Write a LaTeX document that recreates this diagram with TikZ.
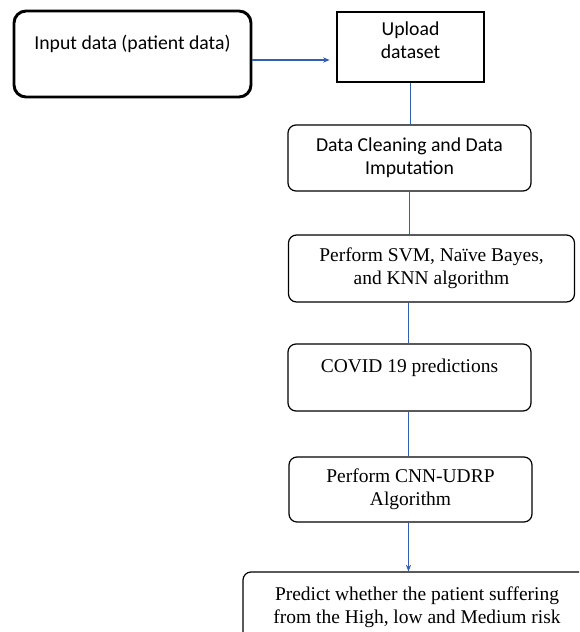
\documentclass[tikz,border=0pt]{standalone}
\usepackage{fontspec}
\setmainfont{Liberation Serif}
\newfontfamily\calibrifont{Carlito}
\usetikzlibrary{arrows.meta}
\definecolor{flowblue}{RGB}{52,94,180}
\tikzset{
  stepbox/.style={draw, rounded corners=6pt, line width=0.9pt, align=center,
    inner sep=0pt, font=\fontsize{14.6}{17.5}\selectfont},
  calibribox/.style={font=\calibrifont\fontsize{14.8}{17.5}\selectfont},
  flow/.style={draw=flowblue, line width=1pt}
}
\begin{document}
\begin{tikzpicture}[x=0.75pt,y=-0.75pt] % covid risk prediction flow
\path[use as bounding box, clip] (0,0) rectangle (579,632);
    \node[stepbox, calibribox, line width=2.2pt, rounded corners=9pt, minimum width=177.75pt, minimum height=64.5pt,
          text depth=17pt] (input) at (132.5,54) {Input data (patient data)};
    \node[stepbox, calibribox, rounded corners=0pt, minimum width=110.25pt, minimum height=52.5pt,
          text depth=10pt] (upload) at (410.5,47) {Upload\\dataset};
    \node[stepbox, calibribox, minimum width=182.25pt, minimum height=49.5pt] (clean) at (409.5,158) {Data Cleaning and Data\\Imputation};
    \node[stepbox, minimum width=214.5pt, minimum height=50.25pt] (svm) at (431.5,268.5) {Perform SVM, Naïve Bayes,\\and KNN algorithm};
    \node[stepbox, minimum width=182.25pt, minimum height=50.25pt, text depth=17.5pt] (covid) at (409.5,377.5) {COVID 19 predictions};
    \node[stepbox, minimum width=182.25pt, minimum height=48.75pt] (cnn) at (410.5,489.5) {Perform CNN-UDRP\\Algorithm};
    \node[stepbox, minimum width=261pt, minimum height=52.5pt] (predict) at (417,607) {Predict whether the patient suffering\\from the High, low and Medium risk};
    \draw[flow, -{Stealth[length=5pt,width=4pt]}, shorten >=5pt] ([yshift=-4.5pt]input.east) -- ([yshift=-4.5pt]input.east -| upload.west);
    \draw[flow] (upload.south) -- (upload.south |- clean.north);
    \draw[flow] ([xshift=-0.75pt]upload.south |- clean.south) -- ([xshift=-0.75pt]upload.south |- svm.north);
    \draw[flow] ([xshift=-1.5pt]upload.south |- svm.south) -- ([xshift=-1.5pt]upload.south |- covid.north);
    \draw[flow] ([xshift=-1.5pt]upload.south |- covid.south) -- ([xshift=-1.5pt]upload.south |- cnn.north);
    \draw[flow, -{Stealth[length=5pt,width=4pt]}] ([xshift=-1.5pt]upload.south |- cnn.south) -- ([xshift=-1.5pt]upload.south |- predict.north);
\end{tikzpicture}
\end{document}
